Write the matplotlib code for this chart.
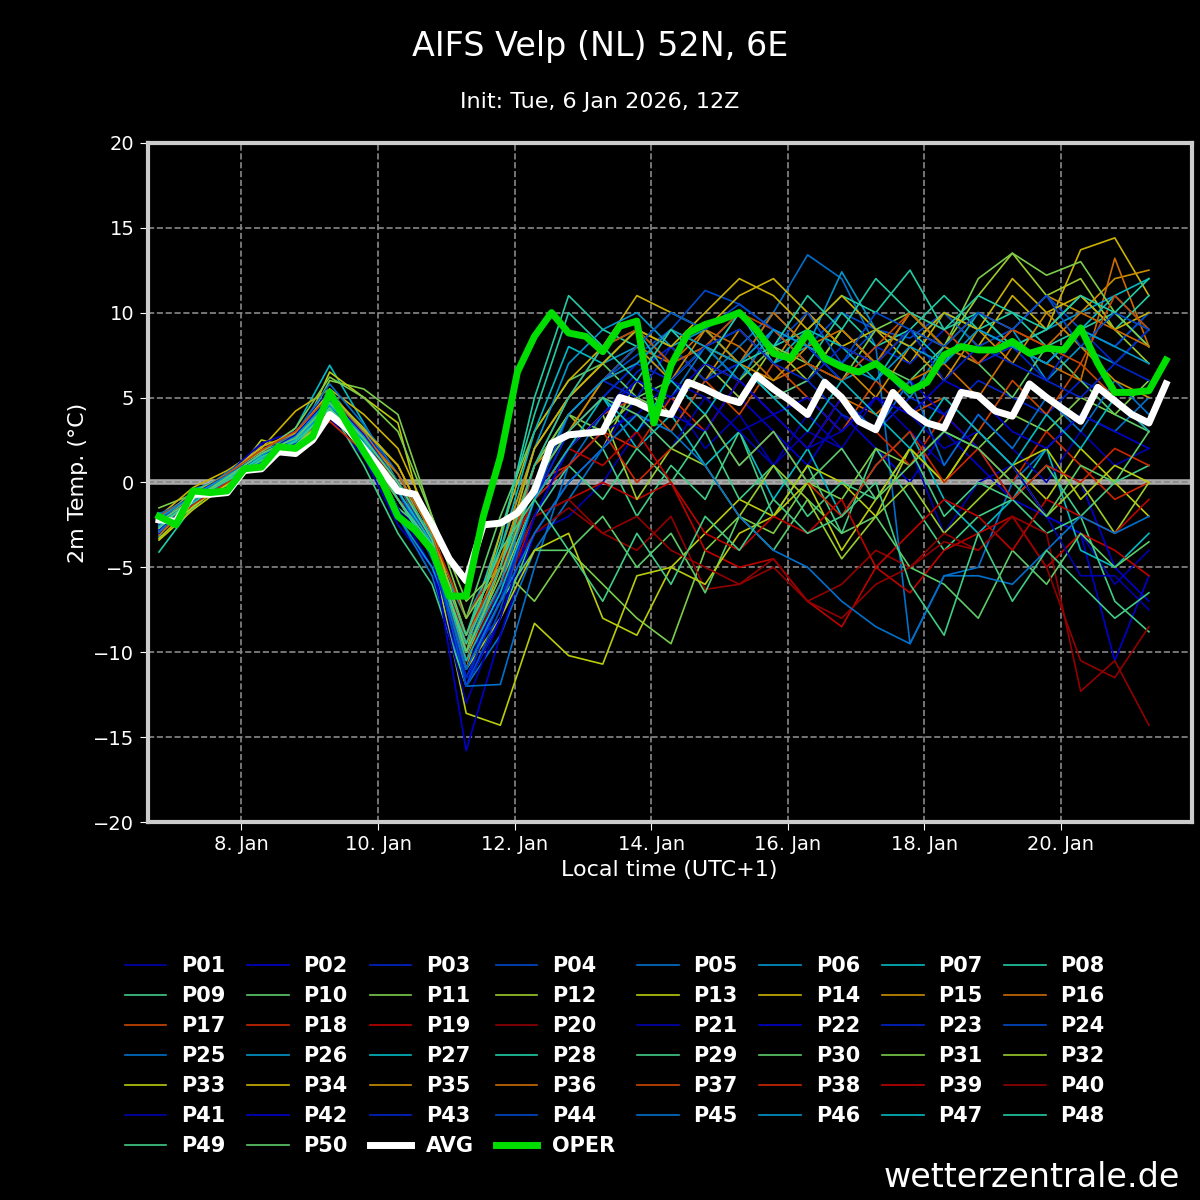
"""
Ensemble plume chart for 2m temperature at a single location.
Draws all members, the ensemble mean and the operational run.
"""

import datetime as dt
import numpy as np
import matplotlib.pyplot as plt
import matplotlib.dates as mdates

# 6-hourly times for AVG / OPER, 12-hourly times for the members
START = dt.datetime(2026, 1, 6, 19)
AVG = [-2.2, -2.3, -0.7, -0.7, -0.6, 0.7, 0.8, 1.8, 1.7, 2.5, 4.0, 3.2, 2.0, 0.8,
       -0.5, -0.7, -2.5, -4.5, -5.8, -2.5, -2.4, -1.8, -0.5, 2.3, 2.8, 2.9, 3.0, 5.0,
       4.7, 4.2, 4.0, 5.9, 5.5, 5.0, 4.7, 6.3, 5.5, 4.8, 4.0, 5.9, 5.0, 3.6, 3.1, 5.3,
       4.2, 3.5, 3.2, 5.3, 5.1, 4.2, 3.9, 5.8, 5.0, 4.3, 3.6, 5.6, 4.8, 4.0, 3.5, 5.8]
OPER = [-2.0, -2.5, -0.5, -0.6, -0.5, 0.8, 0.9, 2.1, 2.0, 2.7, 5.3, 3.5, 1.8, 0.2,
        -2.0, -2.8, -4.0, -6.7, -6.7, -2.0, 1.5, 6.5, 8.6, 10.0, 8.8, 8.6, 7.7, 9.2,
        9.5, 3.5, 6.9, 8.8, 9.3, 9.6, 10.0, 9.0, 7.6, 7.3, 8.8, 7.3, 6.8, 6.5, 7.0, 6.2,
        5.4, 5.9, 7.5, 8.0, 7.8, 7.8, 8.3, 7.6, 7.9, 7.8, 9.1, 7.0, 5.3, 5.3, 5.4, 7.2]

MEMBERS = [
    [-2.8, -1.0, 0.3, 1.5, 2.6, 4.5, 2.0, -1.5, -3.5, -9.0, -7.0, -3.0, -2.0, 0.0, 3.0, 5.0, 2.0, 4.0, 1.0, 3.0, 2.0, -1.0, 2.0, -3.0, 0.0, 1.0, -2.0, -3.0, -6.0, -4.0],
    [-2.1, -0.6, 0.1, 2.2, 2.0, 3.8, 1.5, -2.5, -5.0, -12.0, -6.0, -1.0, 1.0, 3.0, 6.0, 4.0, 7.0, 5.0, 3.0, 1.0, 4.0, 2.0, 0.0, 3.0, 1.0, -1.0, -2.0, -3.0, -10.5, -5.5],
    [-3.0, -1.2, 0.5, 1.0, 3.0, 4.8, 2.5, -0.5, -4.0, -10.0, -8.0, -2.0, 2.0, 4.0, 6.5, 8.0, 6.0, 7.0, 5.0, 6.0, 4.0, 3.0, 5.0, 4.0, 6.0, 5.0, 4.0, 6.0, 5.0, 3.0],
    [-2.5, -0.8, 0.0, 1.8, 2.4, 5.0, 3.0, -1.0, -3.0, -11.0, -6.5, 1.0, 4.0, 6.0, 7.5, 9.0, 11.3, 10.5, 9.0, 8.0, 10.0, 9.0, 8.5, 10.0, 9.0, 8.0, 7.0, 9.0, 8.0, 10.0],
    [-1.8, -1.5, 0.4, 1.2, 2.8, 4.0, 2.2, -2.0, -5.5, -12.0, -9.0, -4.0, -1.0, 2.0, 4.0, 3.0, 6.0, 8.0, 10.0, 13.4, 12.0, 8.0, -9.5, -5.5, -5.0, 0.0, 2.0, 4.0, 3.0, 5.0],
    [-3.2, -0.4, 0.2, 1.6, 2.3, 4.2, 1.8, -1.0, -3.8, -8.0, -4.0, 2.0, 5.0, 7.0, 8.0, 6.0, 8.0, 9.0, 7.0, 8.0, 6.0, 7.0, 5.0, 8.0, 7.0, 9.0, 6.0, 8.0, 7.0, 9.0],
    [-2.6, -1.1, 0.6, 1.4, 3.2, 6.9, 3.5, 0.0, -2.5, -10.0, -5.0, 0.0, 3.0, 5.0, 2.0, 4.0, 1.0, 3.0, -1.0, 2.0, -2.0, 1.0, 3.0, -1.0, -3.0, -1.0, 2.0, -4.0, -5.0, -3.0],
    [-4.1, -1.4, 0.2, 1.9, 2.5, 5.5, 2.8, -0.5, -4.5, -9.0, -3.0, 4.0, 10.0, 8.0, 9.0, 7.0, 8.0, 6.0, 9.0, 7.0, 10.0, 8.0, 9.0, 11.0, 9.0, 10.0, 8.0, 9.0, 10.0, 8.0],
    [-2.3, -0.9, -0.2, 1.3, 2.1, 4.4, 1.0, -3.0, -6.0, -12.0, -8.0, -3.0, 0.0, 2.0, -2.0, 1.0, -1.0, 3.0, -2.0, 1.0, -3.0, 2.0, -1.0, -4.0, -2.0, -1.0, -3.0, -2.0, -7.0, -8.8],
    [-2.9, -0.5, 0.3, 1.1, 2.7, 4.9, 2.4, -1.5, -3.2, -8.0, -2.0, 3.0, 6.0, 7.0, 5.0, 6.0, 8.0, 7.0, 5.0, 6.0, 9.0, 7.0, 6.0, 8.0, 7.0, 5.0, 8.0, 6.0, 4.0, 3.0],
    [-1.5, -0.7, 0.4, 1.7, 2.2, 6.0, 5.5, 4.0, -2.0, -7.0, -5.0, -7.0, -4.0, -6.0, -8.0, -9.5, -4.0, -2.0, -3.0, 0.0, -1.0, 2.0, 1.0, 3.0, 2.0, 4.0, 3.0, 5.0, 4.0, 6.0],
    [-2.4, -1.3, 0.1, 1.0, 2.9, 5.2, 3.2, 1.0, -3.0, -9.0, -5.0, 1.0, 4.0, 2.0, 6.0, 4.0, 7.0, 5.0, 8.0, 6.0, 9.0, 7.0, 10.0, 8.0, 11.0, 13.5, 11.0, 12.0, 9.0, 7.0],
    [-3.4, -1.6, -0.1, 2.5, 2.0, 6.5, 5.0, 3.5, -4.0, -13.6, -14.3, -8.3, -10.2, -10.7, -5.5, -5.0, -3.0, -1.0, -2.0, 1.0, 0.0, -2.0, 2.0, 0.0, 3.0, 1.0, -1.0, 2.0, 0.0, -2.0],
    [-2.0, -0.3, 0.7, 2.0, 4.2, 5.5, 4.0, 2.0, -2.5, -10.0, -3.0, 3.0, 6.0, 8.0, 11.0, 10.0, 9.0, 11.0, 12.0, 10.0, 8.0, 9.0, 7.0, 10.0, 8.0, 11.0, 9.0, 13.7, 14.4, 11.0],
    [-2.7, -1.0, 0.2, 1.6, 2.6, 4.6, 2.6, 0.5, -3.5, -11.0, -4.0, 2.0, 5.0, 7.0, 9.0, 8.0, 6.0, 9.0, 7.0, 10.0, 8.0, 7.0, 9.0, 8.0, 10.0, 9.0, 11.0, 10.0, 12.0, 12.5],
    [-3.1, -1.2, 0.0, 1.4, 3.0, 5.0, 3.0, 1.0, -3.0, -10.0, -6.0, 0.0, 3.0, 6.0, 8.0, 7.0, 9.0, 8.0, 6.0, 7.0, 5.0, 4.0, 6.0, 7.0, 5.0, 8.0, 7.0, 6.0, 13.2, 8.0],
    [-2.2, -0.8, 0.4, 1.8, 2.4, 4.0, 2.0, -1.0, -4.0, -9.0, -5.0, -1.0, 2.0, 4.0, 5.0, 3.0, 6.0, 4.0, 7.0, 5.0, 3.0, 6.0, 4.0, 5.0, 3.0, 6.0, 4.0, 7.0, 5.0, 3.0],
    [-2.6, -1.1, 0.1, 1.2, 2.0, 3.6, 1.8, -1.0, -3.0, -8.0, -4.5, 0.0, 1.0, 3.0, 2.0, 5.0, 3.0, 6.0, 4.0, 2.0, 5.0, 3.0, 1.0, 4.0, 2.0, 0.0, 3.0, 1.0, -1.0, 0.0],
    [-2.4, -0.9, 0.3, 1.5, 2.5, 4.1, 2.6, 0.0, -4.0, -11.0, -7.0, -2.0, -1.0, 0.0, -1.0, 0.0, -4.0, -5.0, -4.5, -7.0, -8.5, -5.0, -6.5, -4.0, -3.0, -2.0, -5.0, -3.0, -4.0, -5.5],
    [-2.8, -1.4, 0.2, 1.3, 2.3, 3.9, 2.2, -1.0, -3.5, -10.0, -6.0, -3.0, -1.5, -3.0, -4.0, -2.0, -6.3, -6.0, -5.0, -7.0, -6.0, -4.0, -5.0, -3.5, -4.0, -2.0, -3.0, -12.3, -10.5, -14.3],
    [-2.3, -0.7, 0.0, 1.4, 2.2, 4.3, 2.1, -1.5, -5.0, -13.0, -8.0, -2.0, 1.0, 3.0, 4.0, 2.0, 5.0, 3.0, 1.0, 4.0, 2.0, 5.0, 3.0, 1.0, 4.0, 2.0, 0.0, 3.0, 1.0, 2.0],
    [-2.0, -1.0, 0.5, 2.3, 3.0, 5.4, 2.9, 0.0, -4.0, -15.8, -9.0, -3.0, 0.0, 2.0, 5.0, 4.0, 3.0, 6.0, 4.0, 2.0, 5.0, 3.0, 6.0, 4.0, 2.0, -1.0, 1.0, 0.0, -5.0, -7.0],
    [-3.0, -0.6, 0.2, 1.7, 2.7, 5.0, 3.0, 0.5, -3.0, -12.0, -6.0, 0.0, 4.0, 6.0, 5.0, 8.0, 6.0, 7.0, 9.0, 8.0, 6.0, 8.0, 7.0, 9.0, 7.0, 8.0, 6.0, 9.0, 7.0, 9.0],
    [-2.5, -1.2, 0.3, 1.5, 2.4, 4.8, 2.7, 0.0, -3.5, -11.5, -7.0, -1.0, 3.0, 5.0, 7.0, 9.0, 7.0, 10.0, 8.0, 10.0, 7.0, 9.0, 8.0, 10.0, 8.0, 9.0, 11.0, 9.0, 8.0, 10.0],
    [-1.9, -0.8, 0.6, 1.9, 2.9, 5.8, 3.4, 0.5, -3.0, -12.0, -11.9, -5.0, 1.0, 4.0, 6.0, 5.0, 8.0, 6.0, 9.0, 7.0, 5.0, 3.0, 6.0, 1.0, 4.0, 2.0, 5.0, 3.0, 6.0, 4.0],
    [-2.7, -1.3, 0.1, 1.2, 2.1, 4.6, 2.2, -2.0, -5.0, -10.0, -5.0, 2.0, 7.0, 9.0, 10.0, 8.0, 9.0, 7.0, 10.0, 8.0, 12.4, 9.0, 8.0, 10.0, 9.0, 8.0, 9.0, 10.0, 11.0, 9.0],
    [-2.3, -0.5, 0.4, 1.6, 2.8, 4.9, 2.4, -0.5, -3.8, -9.0, -4.0, 3.0, 8.0, 7.0, 9.0, 6.0, 8.0, 10.0, 7.0, 9.0, 8.0, 6.0, 9.0, 7.0, 10.0, 8.0, 7.0, 9.0, 11.0, 12.0],
    [-2.9, -1.0, 0.0, 1.1, 2.5, 5.2, 3.0, 0.0, -3.2, -9.5, -3.5, 5.0, 11.0, 9.0, 8.0, 10.0, 9.0, 7.0, 8.0, 9.0, 11.0, 10.0, 12.5, 9.0, 10.0, 8.0, 9.0, 11.0, 9.0, 11.0],
    [-2.1, -0.9, 0.3, 1.3, 2.0, 4.1, 1.9, -1.0, -4.2, -10.0, -6.0, -2.0, 1.0, -1.0, 2.0, 0.0, 3.0, -1.0, 1.0, -2.0, 0.0, -1.0, 2.0, -2.0, 0.0, -1.0, 1.0, -2.0, 0.0, 1.0],
    [-2.6, -1.5, 0.2, 1.6, 2.6, 4.7, 2.6, 0.0, -4.0, -11.0, -7.0, -4.0, -4.0, -2.0, -5.0, -3.0, -6.5, -2.0, -4.0, -1.0, -3.0, -2.0, -5.0, -6.0, -8.0, -4.0, -6.0, -3.0, -5.0, -3.5],
    [-2.4, -0.7, 0.5, 1.8, 3.2, 6.2, 5.0, 3.0, -2.0, -8.0, -5.0, 1.0, 4.0, 3.0, 5.0, 4.0, 7.0, 6.0, 8.0, 7.0, 6.0, 9.0, 10.0, 8.0, 12.0, 13.5, 12.2, 13.0, 10.0, 8.0],
    [-2.8, -1.1, 0.1, 1.4, 2.4, 4.5, 2.3, 0.0, -3.5, -10.0, -6.0, -1.0, 2.0, 4.0, -1.0, 2.0, 1.0, -2.0, 1.0, -1.0, -4.5, -2.0, 0.0, -3.0, -1.0, 1.0, -2.0, 0.0, -3.0, 0.0],
    [-3.3, -1.4, 0.0, 1.0, 2.2, 4.0, 2.0, -1.0, -4.0, -11.0, -8.0, -4.0, -3.0, -8.0, -9.0, -5.0, -6.0, -3.0, -2.0, 0.0, -4.0, -1.0, 2.0, 0.0, 3.0, 1.0, 2.0, -1.0, 1.0, 0.0],
    [-2.2, -0.6, 0.4, 2.1, 2.9, 5.3, 3.1, 1.0, -3.0, -10.5, -5.0, 2.0, 5.0, 7.0, 9.0, 8.0, 10.0, 12.0, 11.0, 9.0, 11.0, 9.0, 8.0, 10.0, 9.0, 12.0, 10.0, 11.0, 9.0, 10.0],
    [-2.7, -1.0, 0.3, 1.5, 2.7, 4.6, 2.5, 0.0, -3.6, -9.5, -4.5, 1.0, 3.0, 6.0, 8.0, 6.0, 9.0, 7.0, 6.0, 8.0, 7.0, 5.0, 8.0, 6.0, 9.0, 7.0, 10.0, 8.0, 6.0, 5.0],
    [-2.5, -1.2, 0.2, 1.7, 2.5, 4.9, 2.8, 0.5, -3.0, -10.0, -5.5, 0.0, 4.0, 6.0, 7.0, 9.0, 8.0, 7.0, 10.0, 8.0, 9.0, 7.0, 10.0, 8.0, 7.0, 9.0, 8.0, 10.0, 9.0, 8.0],
    [-2.0, -0.8, 0.5, 1.9, 3.0, 5.1, 2.9, 0.0, -4.0, -10.5, -6.0, 1.0, 5.0, 8.0, 9.0, 7.0, 8.0, 10.0, 9.0, 7.0, 6.0, 8.0, 10.0, 9.0, 7.0, 9.0, 8.0, 7.0, 11.0, 9.0],
    [-2.9, -1.3, 0.0, 1.3, 2.3, 4.3, 2.1, -1.0, -3.8, -9.0, -5.0, -1.0, 1.0, 3.0, 0.0, 2.0, 4.0, 1.0, 3.0, 0.0, -2.0, 1.0, 3.0, 0.0, 2.0, -1.0, 1.0, 0.0, 2.0, 1.0],
    [-2.4, -0.9, 0.3, 1.4, 2.5, 4.4, 2.4, 0.0, -3.4, -9.5, -5.0, -1.0, 2.0, 1.0, 3.0, 0.0, -3.0, -4.0, -2.0, -3.0, -1.0, -5.0, -3.0, -1.0, -2.0, -4.0, -1.0, -2.0, -3.0, -1.0],
    [-2.6, -1.1, 0.1, 1.6, 2.4, 4.2, 2.2, -0.5, -3.8, -10.5, -6.0, -2.0, -1.0, -3.0, -2.0, -4.0, -5.0, -6.0, -4.5, -7.0, -8.0, -6.0, -5.0, -3.0, -4.0, -2.0, -5.0, -10.5, -11.5, -8.5],
    [-2.3, -1.0, 0.3, 1.5, 2.6, 4.7, 2.5, -0.5, -4.0, -11.0, -6.5, -1.0, 3.0, 5.0, 4.0, 6.0, 5.0, 3.0, 4.0, 2.0, 3.0, 5.0, 4.0, 2.0, 3.0, 1.0, -2.0, -5.5, -5.5, -7.5],
    [-2.8, -1.2, 0.2, 1.6, 2.8, 5.0, 2.8, 0.0, -3.5, -12.0, -8.0, -2.0, 2.0, 4.0, 6.0, 5.0, 7.0, 6.0, 4.0, 5.0, 3.0, 5.0, 4.0, 6.0, 5.0, 3.0, 2.0, 4.0, 3.0, 2.0],
    [-2.2, -0.7, 0.4, 1.7, 2.3, 4.6, 2.3, -0.5, -4.5, -11.5, -7.0, -1.0, 3.0, 5.0, 7.0, 6.0, 8.0, 9.0, 7.0, 6.0, 8.0, 7.0, 9.0, 6.0, 8.0, 7.0, 6.0, 5.0, 7.0, 6.0],
    [-2.5, -0.9, 0.2, 1.3, 2.6, 4.8, 2.6, 0.0, -3.8, -12.0, -7.5, -1.0, 4.0, 6.0, 8.0, 10.0, 9.0, 10.5, 9.0, 8.0, 7.0, 10.0, 9.0, 8.0, 10.0, 9.0, 11.0, 8.0, 10.0, 9.0],
    [-2.9, -1.1, 0.1, 1.2, 2.4, 4.5, 2.4, -0.5, -4.0, -11.0, -7.0, -3.0, 0.0, 2.0, 4.0, 3.0, 1.0, -2.0, -4.0, -5.0, -7.0, -8.5, -9.5, -5.5, -5.5, -6.0, -4.0, -2.0, -3.0, -2.0],
    [-2.1, -0.8, 0.4, 1.6, 2.7, 4.9, 2.7, 0.0, -3.3, -10.0, -6.0, 0.0, 4.0, 6.0, 7.0, 9.0, 8.0, 7.0, 9.0, 8.0, 7.0, 6.0, 8.0, 7.0, 9.0, 8.0, 7.0, 9.0, 8.0, 7.0],
    [-2.6, -1.0, 0.3, 1.4, 2.5, 4.6, 2.5, -0.5, -3.6, -10.5, -6.5, -1.0, 2.0, 5.0, 3.0, 6.0, 4.0, 7.0, 5.0, 3.0, 6.0, 4.0, 2.0, 5.0, 3.0, 1.0, 4.0, 2.0, 5.0, 3.0],
    [-2.4, -1.2, 0.2, 1.5, 2.4, 4.3, 2.3, -1.0, -4.0, -9.5, -5.0, 1.0, 5.0, 8.0, 6.0, 9.0, 7.0, 10.0, 8.0, 11.0, 9.0, 12.0, 10.0, 9.0, 11.0, 10.0, 9.0, 11.0, 10.0, 12.0],
    [-2.7, -0.9, 0.1, 1.3, 2.2, 4.4, 2.2, -1.0, -3.7, -9.0, -4.0, -1.0, -4.0, -7.0, -3.0, -6.0, -2.0, -4.0, -1.0, -3.0, -2.0, 0.0, -6.0, -9.0, -3.0, -7.0, -4.0, -6.0, -8.0, -6.5],
    [-2.3, -1.0, 0.3, 1.7, 2.6, 4.7, 2.6, 0.0, -3.4, -10.0, -5.5, 0.0, 3.0, 5.0, 4.0, 2.0, 4.0, 1.0, 3.0, 0.0, 2.0, -1.0, 1.0, 3.0, 2.0, 0.0, -2.0, 1.0, 0.0, 3.0],
]


def member_colours():
    """Return 20 colours running from dark blue over green and yellow to dark red."""
    cols = plt.cm.jet(np.linspace(0.08, 0.95, 20))
    cols[:, :3] *= 0.8  # the plume is drawn in slightly darker tones
    return cols


def plot_plume(save_path: str = "out.png") -> None:
    """
    Draws the ensemble plume with member lines, AVG and OPER.

    Args:
        save_path (str): File the figure is written to.
    """
    t6 = [START + dt.timedelta(hours=6 * i) for i in range(len(AVG))]
    t12 = [START + dt.timedelta(hours=12 * i) for i in range(len(MEMBERS[0]))]
    cols = member_colours()

    plt.figure(figsize=(12, 12), dpi=100, facecolor='black')
    ax = plt.axes([0.123, 0.315, 0.870, 0.566], facecolor='black')

    for i, vals in enumerate(MEMBERS):
        plt.plot(t12, vals, color=cols[i % 20], lw=1.2, label=f'P{i + 1:02d}')
    plt.axhline(0, color='#aaaaaa', lw=4, zorder=1)
    plt.plot(t6, AVG, color='white', lw=5, label='AVG', zorder=5)
    plt.plot(t6, OPER, color='#00dd00', lw=5, label='OPER', zorder=6)

    plt.xlim(dt.datetime(2026, 1, 6, 15), dt.datetime(2026, 1, 21, 22))
    plt.ylim(-20, 20)
    plt.yticks(range(-20, 21, 5))
    ax.xaxis.set_major_locator(mdates.DayLocator(bymonthday=[8, 10, 12, 14, 16, 18, 20]))
    ax.xaxis.set_major_formatter(mdates.DateFormatter('%-d. %b'))
    plt.tick_params(colors='white', labelsize=14, length=6)
    plt.grid(True, color='#888888', linestyle='--', lw=1.2)
    for s in ax.spines.values():
        s.set_color('#cccccc')
        s.set_linewidth(3)

    plt.xlabel('Local time (UTC+1)', color='white', fontsize=16)
    plt.ylabel('2m Temp. (°C)', color='white', fontsize=16)
    plt.figtext(0.5, 0.975, 'AIFS Velp (NL) 52N, 6E', color='white', fontsize=24,
                ha='center', va='top')
    plt.figtext(0.5, 0.923, 'Init: Tue, 6 Jan 2026, 12Z', color='white', fontsize=16,
                ha='center', va='top')
    plt.figtext(0.983, 0.005, 'wetterzentrale.de', color='white', fontsize=24,
                ha='right', va='bottom')

    # legend is filled row by row in the reference, matplotlib fills columns
    handles, labels = ax.get_legend_handles_labels()
    ncol = 8
    order = [j for c in range(ncol) for j in range(c, len(handles), ncol)]
    leg = plt.legend([handles[j] for j in order], [labels[j] for j in order],
                     loc='upper left', bbox_to_anchor=(-0.04, -0.17), ncol=ncol,
                     frameon=False, handlelength=2.0, handletextpad=0.7,
                     columnspacing=1.05, labelspacing=0.48,
                     prop={'weight': 'bold', 'size': 15})
    for txt in leg.get_texts():
        txt.set_color('white')

    plt.savefig(save_path, dpi=100, facecolor='black')
    plt.close()


def main():
    """Main execution block."""
    plot_plume("out.png")


if __name__ == "__main__":
    main()
